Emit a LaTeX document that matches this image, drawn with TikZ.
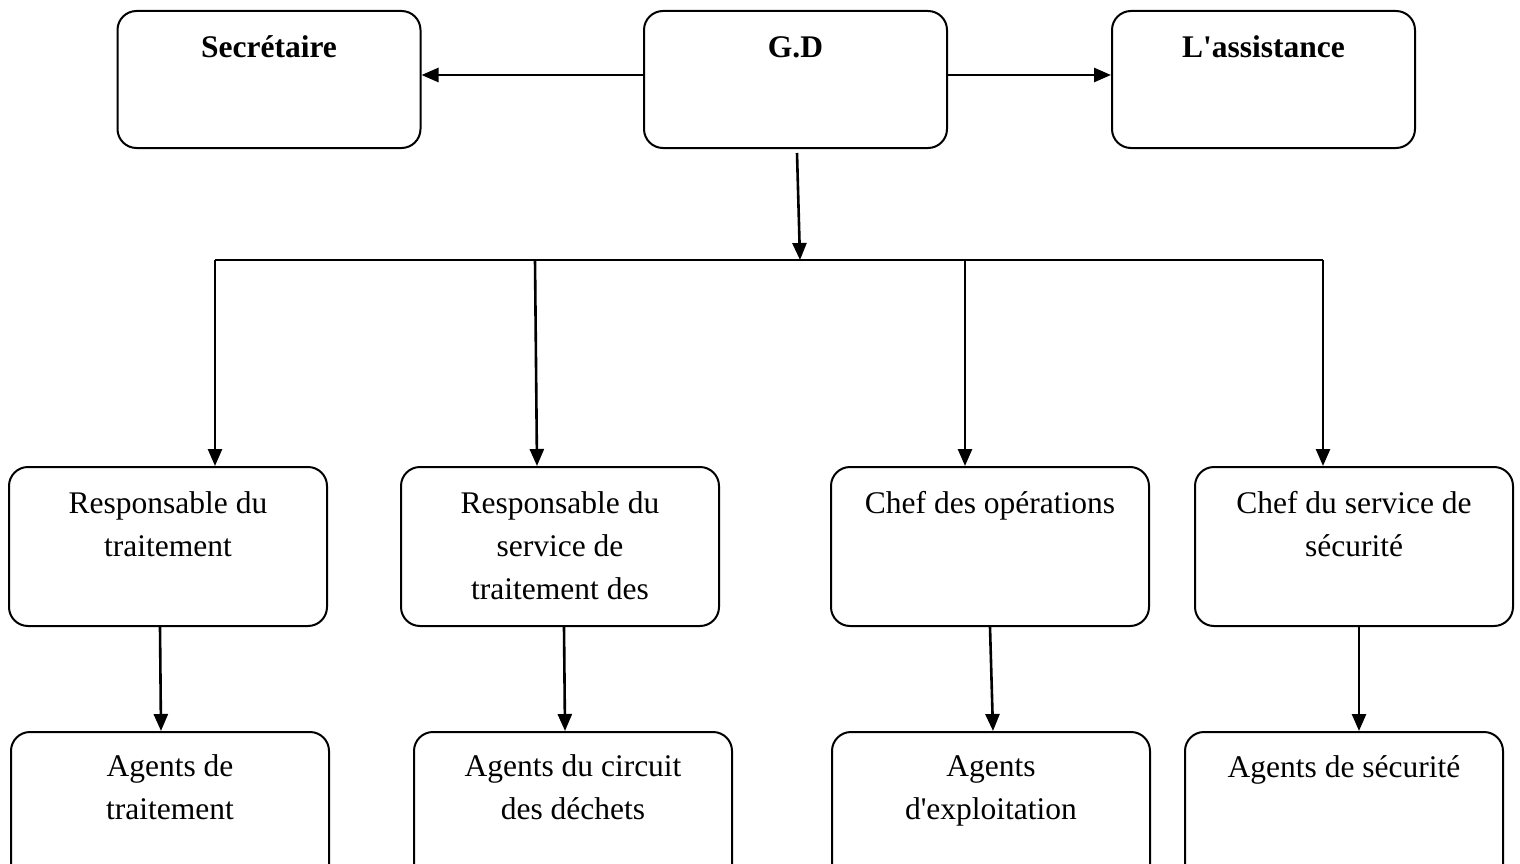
\documentclass[tikz,border=0pt]{standalone}
\usepackage{fontspec}
\setmainfont{Liberation Serif}
\usetikzlibrary{arrows.meta}
\begin{document}
\begin{tikzpicture}[x=1pt,y=-1pt,
  box/.style={draw, line width=2pt, rounded corners=19pt, minimum height=159pt, minimum width=318pt, inner sep=0pt},
  topbox/.style={box, minimum height=137pt, minimum width=303pt},
  lbl/.style={font=\fontsize{31.5}{43}\selectfont, align=center, anchor=base, inner sep=0pt},
  toplbl/.style={lbl, font=\fontsize{31.5}{43}\selectfont\bfseries},
  arr/.style={line width=2.6pt, -{Triangle[length=17pt,width=14pt]}},
  bus/.style={line width=1.6pt}]
\clip (0,0) rectangle (1520,864);
\fill[white] (0,0) rectangle (1520,864);
% top row
\node[topbox] (sec) at (269,79.5) {};
\node[topbox] (gd) at (795.5,79.5) {};
\node[topbox] (asst) at (1263.5,79.5) {};
\node[toplbl] (tsec) at ([yshift=-48pt]sec.north) {Secrétaire};
\node[toplbl] (tgd) at ([yshift=-48pt]gd.north) {G.D};
\node[toplbl] (tasst) at ([yshift=-48pt]asst.north) {L\textquotesingle assistance};
% middle row
\node[box] (m1) at (168,546.5) {};
\node[box] (m2) at (560,546.5) {};
\node[box] (m3) at (990,546.5) {};
\node[box] (m4) at (1354,546.5) {};
\node[lbl] (tm1) at ([yshift=-90pt]m1.north) {Responsable du\\traitement};
\node[lbl] (tm2) at ([yshift=-133pt]m2.north) {Responsable du\\service de\\traitement des};
\node[lbl] (tm3) at ([yshift=-47pt]m3.north) {Chef des opérations};
\node[lbl] (tm4) at ([yshift=-90pt]m4.north) {Chef du service de\\sécurité};
% bottom row
\node[box] (b1) at (170,811.5) {};
\node[box] (b2) at (573,811.5) {};
\node[box] (b3) at (991,811.5) {};
\node[box] (b4) at (1344,811.5) {};
\node[lbl] (tb1) at ([yshift=-88pt]b1.north) {Agents de\\traitement};
\node[lbl] (tb2) at ([yshift=-88pt]b2.north) {Agents du circuit\\des déchets};
\node[lbl] (tb3) at ([yshift=-88pt]b3.north) {Agents\\d\textquotesingle exploitation};
\node[lbl] (tb4) at ([yshift=-46pt]b4.north) {Agents de sécurité};
% connectors top
\draw[arr] ([yshift=4.5pt]gd.west) -- ([yshift=4.5pt]sec.east);
\draw[arr] ([yshift=4.5pt]gd.east) -- ([yshift=4.5pt]asst.west);
\coordinate (busl) at (215,260);
\coordinate (busc) at (800,260);
\coordinate (bus2) at (535,260);
\coordinate (bus3) at (965,260);
\coordinate (busr) at (1323,260);
\draw[arr] ([xshift=1.5pt,yshift=-4pt]gd.south) -- (busc);
\draw[bus] (busl) -- (busr);
\draw[arr] (busl) -- (busl |- m1.north);
\draw[arr] (bus2) -- ([xshift=-23pt]m2.north);
\draw[arr] (bus3) -- ([xshift=-25pt]m3.north);
\draw[arr] (busr) -- ([xshift=-31pt]m4.north);
% connectors bottom
\draw[arr] ([xshift=-8pt]m1.south) -- ([xshift=-9pt]b1.north);
\draw[arr] ([xshift=4pt]m2.south) -- ([xshift=-8pt]b2.north);
\draw[arr] (m3.south) -- ([xshift=2pt]b3.north);
\draw[arr] ([xshift=5pt]m4.south) -- ([xshift=15pt]b4.north);
\end{tikzpicture}
\end{document}
